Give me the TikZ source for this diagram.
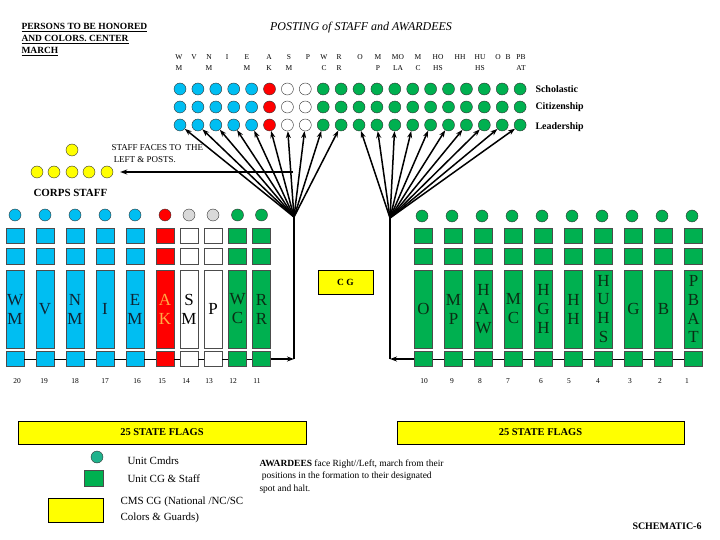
\documentclass[tikz,border=0pt]{standalone}
\usepackage{fontspec}
\setmainfont{Liberation Serif}
\usetikzlibrary{positioning, arrows.meta, calc}

\definecolor{skyc}{RGB}{0,190,242}
\definecolor{flagred}{RGB}{255,0,0}
\definecolor{flaggreen}{RGB}{0,176,80}
\definecolor{unitteal}{RGB}{32,178,140}
\definecolor{posgray}{RGB}{217,217,217}
\definecolor{cgyellow}{RGB}{255,255,0}
\definecolor{akorange}{RGB}{255,170,70}
\definecolor{skytext}{RGB}{15,35,50}
\definecolor{greentext}{RGB}{10,45,20}

\begin{document}
\begin{tikzpicture}[
    x=1bp, y=-1bp,
    >={Stealth[length=7bp, width=5bp]},
    font=\rmfamily,
    dot/.style={circle, draw=black!80, thin, minimum size=12bp, inner sep=0pt},
    sqbox/.style={draw=black!70, thin, minimum width=18bp, inner sep=0pt},
    flagbox/.style={sqbox, minimum height=78bp, align=center,
                    font=\fontsize{17}{19}\selectfont},
    fanline/.style={black, line width=1.5bp},
    tag/.style={font=\fontsize{7.5}{8}\selectfont, inner sep=0pt},
    yellowbox/.style={draw=black, fill=cgyellow, thin, inner sep=0pt},
]

\useasboundingbox (0,0) rectangle (720,540);

% =====================================================================
%  HEADER
% =====================================================================
\node[anchor=north west, align=left, font=\fontsize{9.5}{12}\selectfont\bfseries]
    (honor) at (18,20)
    {\underline{PERSONS TO BE HONORED}\\\underline{AND COLORS. CENTER}\\\underline{MARCH}};

\node[font=\fontsize{12}{14}\selectfont\itshape] (title) at (361,28)
    {POSTING of STAFF and AWARDEES};

% --- post tags above the award rows ---
\foreach \i/\x/\a/\b in {0/179/W/M, 1/194/V/{}, 2/209/N/M, 3/227/I/{}, 4/247/E/M,
                         5/269/A/K, 6/289/S/M, 7/308/P/{}, 8/324/W/C, 9/339/R/R,
                         10/360/O/{}, 11/378/M/P, 12/398/MO/LA, 13/418/M/C, 14/438/HO/HS,
                         15/460/HH/{}, 16/480/HU/HS, 17/498/O/{}, 18/508/B/{}, 19/521/PB/AT} {
    \node[tag] (ta\i) at (\x,57) {\a};
    \node[tag] (tb\i) at (\x,68) {\b};
}

% =====================================================================
%  AWARD ROWS
% =====================================================================
\foreach \r/\y in {S/89, C/107, L/125} {
    \foreach \i/\c in {0/skyc, 1/skyc, 2/skyc, 3/skyc, 4/skyc, 5/flagred, 6/white, 7/white,
                       8/flaggreen, 9/flaggreen, 10/flaggreen, 11/flaggreen, 12/flaggreen,
                       13/flaggreen, 14/flaggreen, 15/flaggreen, 16/flaggreen, 17/flaggreen,
                       18/flaggreen, 19/flaggreen} {
        \node[dot, fill=\c] (\r\i) at ({180+17.9*\i}, \y) {};
    }
}
\node[anchor=west, font=\fontsize{10}{12}\selectfont\bfseries] (schol) at (532,89) {Scholastic};
\node[anchor=west, font=\fontsize{10}{12}\selectfont\bfseries] (citiz) at (532,107) {Citizenship};
\node[anchor=west, font=\fontsize{10}{12}\selectfont\bfseries] (leader) at (532,127) {Leadership};

% --- fans to the posts ---
\coordinate (fanL) at (294,217);
\coordinate (fanR) at (390,218);
\foreach \i in {0,...,9} {
    \draw[fanline, ->] (fanL) -- (L\i);
}
\foreach \i in {10,...,19} {
    \draw[fanline, ->] (fanR) -- (L\i);
}

% =====================================================================
%  CORPS STAFF
% =====================================================================
\node[dot, fill=cgyellow] (Ytop) at (72,150) {};
\foreach \i/\x in {0/37, 1/54, 2/72, 3/89, 4/107} {
    \node[dot, fill=cgyellow] (Y\i) at (\x,172) {};
}
\coordinate (facesStart) at (293,172);
\draw[fanline, ->, shorten >=7bp] (facesStart) -- (Y4.east);
\node[anchor=north west, align=left, font=\fontsize{9}{12}\selectfont] (facesTxt) at (108,141)
    {STAFF FACES TO \ THE\\ \ LEFT \& POSTS.};
\node[anchor=west, font=\fontsize{11}{13}\selectfont\bfseries] (corps) at (30,193) {CORPS STAFF};

% =====================================================================
%  LEFT FLAG LINE (20 -- 11)
% =====================================================================
\foreach \k/\x/\cc/\bc/\txt/\tc/\n/\nx in {
        0/15/skyc/skyc/{W\\M}/skytext/20/17,
        1/45/skyc/skyc/{V}/skytext/19/44,
        2/75/skyc/skyc/{N\\M}/skytext/18/75,
        3/105/skyc/skyc/{I}/skytext/17/105,
        4/135/skyc/skyc/{E\\M}/skytext/16/137,
        5/165/flagred/flagred/{A\\K}/akorange/15/162,
        6/189/posgray/white/{S\\M}/black/14/186,
        7/213/posgray/white/{P}/black/13/209,
        8/237.5/flaggreen/flaggreen/{W\\C}/greentext/12/233,
        9/261.5/flaggreen/flaggreen/{R\\R}/greentext/11/257} {
    \node[dot, fill=\cc] (Lc\k) at (\x,215) {};
    \node[sqbox, fill=\bc, minimum height=15bp] (La\k) at (\x,235.5) {};
    \node[sqbox, fill=\bc, minimum height=16bp] (Lb\k) at (\x,256) {};
    \node[flagbox, fill=\bc, text=\tc] (Lf\k) at (\x,309) {\txt};
    \node[sqbox, fill=\bc, minimum height=15bp] (Lp\k) at (\x,359) {};
    \node[tag] (Ln\k) at (\nx,381) {\n};
}
\foreach \k [count=\j from 1] in {0,...,8} {
    \draw[black, thin] (Lp\k.east) -- (Lp\j.west);
}
\coordinate (lowL) at (294,359);
\draw[fanline, ->] (Lp9.east) -- (lowL);
\draw[fanline] (lowL) -- (fanL);

% =====================================================================
%  RIGHT FLAG LINE (10 -- 1)
% =====================================================================
\foreach \k/\txt/\n/\nx in {0/{O}/10/424, 1/{M\\P}/9/452, 2/{H\\A\\W}/8/480,
                            3/{M\\C}/7/508, 4/{H\\G\\H}/6/541, 5/{H\\H}/5/569,
                            6/{H\\U\\H\\S}/4/598, 7/{G}/3/630, 8/{B}/2/660,
                            9/{P\\B\\A\\T}/1/687} {
    \node[dot, fill=flaggreen] (Rc\k) at ({422+30*\k},216) {};
    \node[sqbox, fill=flaggreen, minimum height=15bp] (Ra\k) at ({423.5+30*\k},235.5) {};
    \node[sqbox, fill=flaggreen, minimum height=16bp] (Rb\k) at ({423.5+30*\k},256) {};
    \node[flagbox, fill=flaggreen, text=greentext] (Rf\k) at ({423.5+30*\k},309) {\txt};
    \node[sqbox, fill=flaggreen, minimum height=15bp] (Rp\k) at ({423.5+30*\k},359) {};
    \node[tag] (Rn\k) at (\nx,381) {\n};
}
\foreach \k [count=\j from 1] in {0,...,8} {
    \draw[black, thin] (Rp\k.east) -- (Rp\j.west);
}
\coordinate (lowR) at (390,359);
\draw[fanline, ->] (Rp0.west) -- (lowR);
\draw[fanline] (lowR) -- (fanR);

% --- CG ---
\node[yellowbox, minimum width=55bp, minimum height=24bp,
      font=\fontsize{9.5}{11}\selectfont\bfseries] (cg) at (345.5,282) {C G};

% =====================================================================
%  STATE FLAGS + LEGEND
% =====================================================================
\node[yellowbox, minimum width=288bp, minimum height=23bp,
      font=\fontsize{10.5}{12}\selectfont\bfseries] (flagsL) at (162,432.5) {25 STATE FLAGS};
\node[yellowbox, minimum width=287bp, minimum height=23bp,
      font=\fontsize{10.5}{12}\selectfont\bfseries] (flagsR) at (540.5,432.5) {25 STATE FLAGS};

\node[dot, fill=unitteal] (legC) at (97,457) {};
\node[sqbox, fill=flaggreen, minimum width=19bp, minimum height=16bp] (legS) at (93.5,478) {};
\node[yellowbox, minimum width=55bp, minimum height=24bp] (legY) at (75.5,510) {};
\node[anchor=west, font=\fontsize{11}{13}\selectfont] (legCt) at (124,461) {Unit Cmdrs};
\node[anchor=west, font=\fontsize{11}{13}\selectfont] (legSt) at (124,479) {Unit CG \& Staff};
\node[anchor=west, align=left, font=\fontsize{11}{16}\selectfont] (legYt) at (117,510)
    {CMS CG (National /NC/SC\\Colors \& Guards)};

\node[anchor=north west, align=left, font=\fontsize{9.5}{12.5}\selectfont] (award) at (256,456)
    {\textbf{AWARDEES} face Right//Left, march from their\\
     \ positions in the formation to their designated\\
     spot and halt.};

\node[font=\fontsize{10}{12}\selectfont\bfseries] (schem) at (667,526) {SCHEMATIC-6};

\end{tikzpicture}
\end{document}
